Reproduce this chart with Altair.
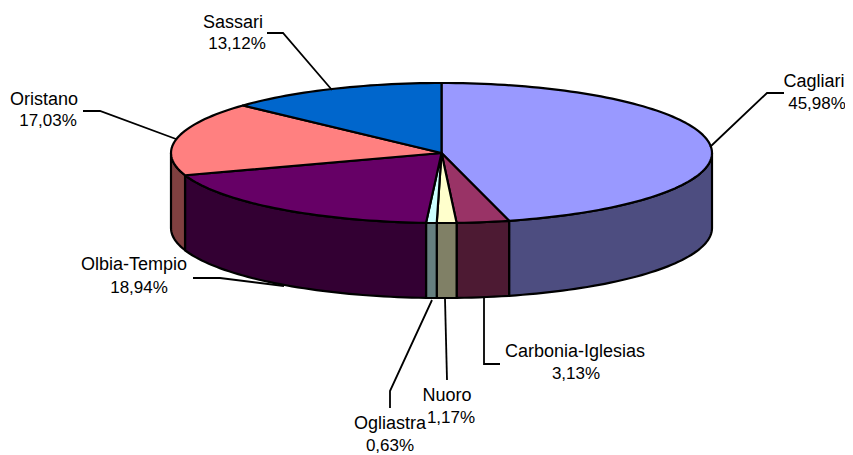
import math
import altair as alt

# --- chart values ---
names = ["Cagliari", "Carbonia-Iglesias", "Nuoro", "Ogliastra", "Olbia-Tempio", "Oristano", "Sassari"]
shares = [45.98, 3.13, 1.17, 0.63, 18.94, 17.03, 13.12]
top_colors = ["#9999FF", "#993366", "#FFFFCC", "#CCFFFF", "#660066", "#FF8080", "#0066CC"]
wall_colors = ["#4D4D80", "#4D1A33", "#808066", "#668080", "#330033", "#804040", "#00336A"]

# label anchor (centre x, y of the name line, y of the value line), page pixels
label_x = [814, 575, 447, 390, 134, 44, 233]
label_x2 = [817, 576, 451, 390, 139, 48, 237]
label_y = [82, 352, 396, 424, 265, 100, 23]
label_y2 = [104, 374, 418, 446, 288, 121, 44]

# leader polylines, page pixels
leaders = {
    "Cagliari": [(784, 93), (767, 93), (710, 147)],
    "Carbonia-Iglesias": [(484, 298), (484, 364), (500, 364)],
    "Nuoro": [(445, 299), (447, 380)],
    "Ogliastra": [(432, 300), (390, 391), (390, 408)],
    "Olbia-Tempio": [(193, 278), (220, 278), (284, 286)],
    "Oristano": [(83, 111), (100, 111), (176, 139)],
    "Sassari": [(267, 33), (283, 33), (332, 90)],
}

# pie geometry
CX, CY, RX, RY, DEPTH = 441.5, 153, 270.5, 70, 75
W, H = 837, 447


def pt(deg, dy=0):
    a = math.radians(deg)
    return [CX + RX * math.sin(a), CY - RY * math.cos(a) + dy]


def arc(a0, a1, dy=0):
    n = max(2, int(abs(a1 - a0) / 1.5) + 1)
    return [pt(a0 + (a1 - a0) * i / (n - 1), dy) for i in range(n)]


def feature(ring, fill):
    ring = ring + [ring[0]]
    return {"type": "Feature", "geometry": {"type": "Polygon", "coordinates": [ring]},
            "properties": {"fill": fill}}


walls, tops = [], []
start = 0.0
for share, top, wall in zip(shares, top_colors, wall_colors):
    end = start + share * 3.6
    a0, a1 = max(start, 90), min(end, 270)
    if a1 > a0:
        walls.append(feature(arc(a0, a1) + arc(a1, a0, DEPTH), wall))
    tops.append(feature([[CX, CY]] + arc(start, end), top))
    start = end

pie = (
    alt.Chart(alt.Data(values=walls + tops))
    .mark_geoshape(stroke="black", strokeWidth=2.2, strokeJoin="round")
    .encode(fill=alt.Fill("properties.fill:N", scale=None))
    .project(type="identity", scale=1, translate=[-8, -8])
)

xs = alt.Scale(domain=[8, W + 8], range=[0, W])
ys = alt.Scale(domain=[8, H + 8], range=[0, H])

line_rows = [
    {"name": k, "i": i, "x": p[0], "y": p[1]}
    for k, pts in leaders.items()
    for i, p in enumerate(pts)
]
lines = (
    alt.Chart(alt.Data(values=line_rows))
    .mark_line(color="black", strokeWidth=1.8)
    .encode(
        x=alt.X("x:Q", scale=xs, axis=None),
        y=alt.Y("y:Q", scale=ys, axis=None),
        detail="name:N",
        order="i:Q",
    )
)

name_rows = [{"t": n, "x": x, "y": y} for n, x, y in zip(names, label_x, label_y)]
value_rows = [
    {"t": f"{s:.2f}".replace(".", ",") + "%", "x": x, "y": y}
    for s, x, y in zip(shares, label_x2, label_y2)
]


def text_layer(rows, size):
    return (
        alt.Chart(alt.Data(values=rows))
        .mark_text(font="Liberation Sans", fontSize=size, color="black", align="center", baseline="middle")
        .encode(
            x=alt.X("x:Q", scale=xs, axis=None),
            y=alt.Y("y:Q", scale=ys, axis=None),
            text="t:N",
        )
    )


chart = (
    alt.layer(pie, lines, text_layer(name_rows, 18), text_layer(value_rows, 17))
    .properties(width=W, height=H, padding=0, autosize=alt.AutoSizeParams(type="none"))
    .configure_view(stroke=None)
)
chart.save("out.html", embed_options={"renderer": "svg", "actions": False})
